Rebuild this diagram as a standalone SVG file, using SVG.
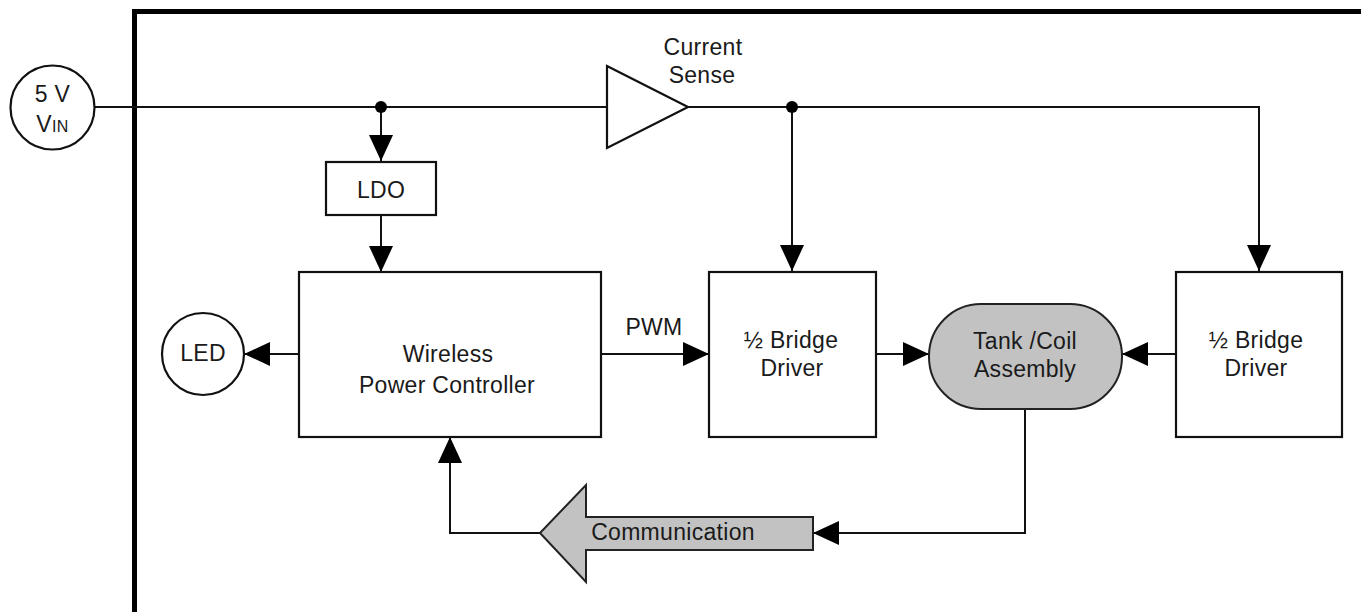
<svg xmlns="http://www.w3.org/2000/svg" width="1361" height="612" viewBox="0 0 1361 612">
<style>
.box{fill:#fff;stroke:#111;stroke-width:2.2}
.gray{fill:#c2c2c2;stroke:#222;stroke-width:2}
.wire{fill:none;stroke:#111;stroke-width:2}
.t{font-family:"Liberation Sans",Arial,sans-serif;font-size:23px;letter-spacing:0.3px;fill:#1a1a1a;text-anchor:middle}
</style>
<defs>
<marker id="ah" markerUnits="userSpaceOnUse" markerWidth="26" markerHeight="24" refX="26" refY="12" orient="auto">
<path d="M0,0 L26,12 L0,24 Z" fill="#000"/>
</marker>
</defs>
<rect width="1361" height="612" fill="#fff"/>
<path d="M134.5,612 V11.5 H1361" fill="none" stroke="#000" stroke-width="5"/>

<g id="connectors">
<path class="wire" d="M94,107 H607"/>
<path class="wire" d="M688,107 H1259 V271" marker-end="url(#ah)"/>
<path class="wire" d="M381,107 V161" marker-end="url(#ah)"/>
<path class="wire" d="M381,215 V272" marker-end="url(#ah)"/>
<path class="wire" d="M792,107 V271" marker-end="url(#ah)"/>
<path class="wire" d="M299,354 H244" marker-end="url(#ah)"/>
<path class="wire" d="M601,354 H709" marker-end="url(#ah)"/>
<path class="wire" d="M876,354 H929" marker-end="url(#ah)"/>
<path class="wire" d="M1176,354 H1122" marker-end="url(#ah)"/>
<path class="wire" d="M1025,409 V533 H813" marker-end="url(#ah)"/>
<path class="wire" d="M540,533 H450 V437" marker-end="url(#ah)"/>
<circle cx="381" cy="107" r="6" fill="#000"/>
<circle cx="792" cy="107" r="6" fill="#000"/>
</g>

<g id="vin">
<circle cx="52.5" cy="107.5" r="42" class="box"/>
<text class="t" x="52.5" y="102">5 V</text>
<text class="t" x="52.5" y="132">V<tspan font-size="16">IN</tspan></text>
</g>

<g id="current-sense">
<polygon points="607,66 688,107 607,148" class="box"/>
<text class="t" x="703" y="55">Current</text>
<text class="t" x="702" y="83">Sense</text>
</g>

<g id="ldo">
<rect x="326" y="162" width="110" height="53" class="box"/>
<text class="t" x="381" y="198">LDO</text>
</g>

<g id="wpc">
<rect x="299" y="272" width="302" height="165" class="box"/>
<text class="t" x="448" y="362">Wireless</text>
<text class="t" x="447" y="393">Power Controller</text>
</g>

<g id="led">
<circle cx="203" cy="354" r="41" class="box"/>
<text class="t" x="203" y="361">LED</text>
</g>

<g id="pwm-label">
<text class="t" x="654" y="335">PWM</text>
</g>

<g id="bridge1">
<rect x="709" y="272" width="167" height="165" class="box"/>
<text class="t" x="791" y="348">½ Bridge</text>
<text class="t" x="792" y="376">Driver</text>
</g>

<g id="tank">
<rect x="929" y="304" width="193" height="105" rx="52" ry="52" class="gray"/>
<text class="t" x="1025" y="349">Tank /Coil</text>
<text class="t" x="1025" y="377">Assembly</text>
</g>

<g id="bridge2">
<rect x="1176" y="272" width="166" height="165" class="box"/>
<text class="t" x="1256" y="348">½ Bridge</text>
<text class="t" x="1256" y="376">Driver</text>
</g>

<g id="communication">
<polygon points="540,533 586,485 586,517 813,517 813,550 586,550 586,582" class="gray"/>
<text class="t" x="673" y="540">Communication</text>
</g>
</svg>
